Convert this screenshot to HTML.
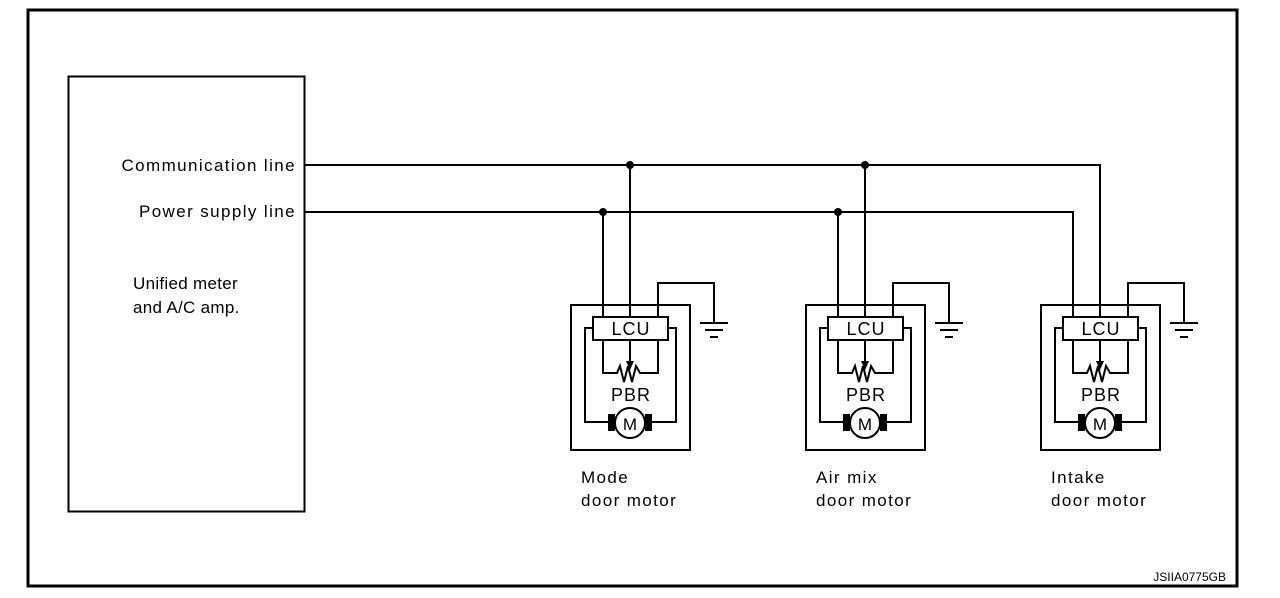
<!DOCTYPE html>
<html><head><style>body{margin:0;background:#fff}svg{display:block}text{font-family:"Liberation Sans",sans-serif;fill:#000}</style></head>
<body>
<svg width="1280" height="598" viewBox="0 0 1280 598" xmlns="http://www.w3.org/2000/svg">
<defs>
<g id="unit" fill="none" stroke="#000" stroke-width="2">
  <rect x="571" y="305" width="119" height="145"/>
  <rect x="593" y="317" width="75" height="23" fill="#fff"/>
  <polyline points="593,328 585,328 585,422 608,422"/>
  <polyline points="668,328 676,328 676,422 652,422"/>
  <polyline points="603,340 603,373 617,373 620,366 624,382 628,366 632,382 636,366 640,373 658,373 658,340"/>
  <line x1="630" y1="340" x2="630" y2="362"/>
  <polygon points="626,361 634,361 630,370" fill="#000" stroke="none"/>
  <polyline points="658,317 658,283 714,283 714,323"/>
  <line x1="700" y1="323" x2="728" y2="323"/>
  <line x1="705" y1="330" x2="723" y2="330"/>
  <line x1="710" y1="337" x2="718" y2="337"/>
  <rect x="608" y="414" width="7" height="17" fill="#000" stroke="none"/>
  <rect x="645" y="414" width="7" height="17" fill="#000" stroke="none"/>
  <circle cx="630" cy="423" r="15" fill="#fff"/>
  <text x="631" y="335" font-size="18" letter-spacing="1" text-anchor="middle" stroke="none" fill="#000">LCU</text>
  <text x="631" y="401" font-size="18" letter-spacing="1" text-anchor="middle" stroke="none" fill="#000">PBR</text>
  <text x="630" y="430" font-size="17" text-anchor="middle" stroke="none" fill="#000">M</text>
</g>
</defs>
<rect x="28" y="10" width="1209" height="576" fill="none" stroke="#000" stroke-width="3"/>
<rect x="68.5" y="76.5" width="236" height="435" fill="none" stroke="#000" stroke-width="2"/>
<g font-size="17" letter-spacing="1.4">
<text x="296" y="171" text-anchor="end">Communication line</text>
<text x="296" y="217" text-anchor="end">Power supply line</text>
</g>
<text x="133" y="289" font-size="17" letter-spacing="0.3">Unified meter</text>
<text x="133" y="313" font-size="17" letter-spacing="0.3">and A/C amp.</text>
<g fill="none" stroke="#000" stroke-width="2">
  <polyline points="305,165 1100,165 1100,317"/>
  <polyline points="305,212 1073,212 1073,317"/>
  <line x1="630" y1="165" x2="630" y2="317"/>
  <line x1="603" y1="212" x2="603" y2="317"/>
  <line x1="865" y1="165" x2="865" y2="317"/>
  <line x1="838" y1="212" x2="838" y2="317"/>
</g>
<g fill="#000"><circle cx="630" cy="165" r="4"/><circle cx="603" cy="212" r="4"/><circle cx="865" cy="165" r="4"/><circle cx="838" cy="212" r="4"/></g>
<use href="#unit"/>
<use href="#unit" transform="translate(235,0)"/>
<use href="#unit" transform="translate(470,0)"/>
<g font-size="17" letter-spacing="1.4">
<text x="581" y="483">Mode</text>
<text x="581" y="506">door motor</text>
<text x="816" y="483">Air mix</text>
<text x="816" y="506">door motor</text>
<text x="1051" y="483">Intake</text>
<text x="1051" y="506">door motor</text>
</g>
<text x="1226" y="581" font-size="12" text-anchor="end">JSIIA0775GB</text>
</svg>
</body></html>
